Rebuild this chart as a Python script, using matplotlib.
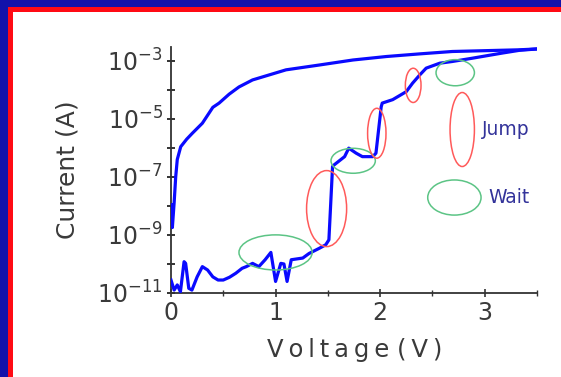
import matplotlib
matplotlib.use("Agg")
import matplotlib.pyplot as plt
from matplotlib.patches import Rectangle, Ellipse
from matplotlib.ticker import FixedLocator, FuncFormatter, LogLocator, NullFormatter, MultipleLocator
import numpy as np

# ---------------- data ----------------
# upper (high-conductance) sweep
v_up = [0.000, 0.013, 0.030, 0.045, 0.060, 0.093, 0.150, 0.204, 0.300, 0.400,
        0.460, 0.556, 0.650, 0.780, 1.100, 1.420, 1.740, 2.060, 2.380, 2.690,
        3.000, 3.330, 3.500]
i_up = [1.1e-8, 1.8e-9, 1.3e-8, 1.0e-7, 4.0e-7, 1.1e-6, 2.0e-6, 3.2e-6, 7.1e-6, 2.5e-5,
        3.5e-5, 7.1e-5, 1.26e-4, 2.2e-4, 4.9e-4, 7.2e-4, 1.07e-3, 1.41e-3, 1.74e-3, 2.1e-3,
        2.24e-3, 2.4e-3, 2.57e-3]

# lower (stepwise "jump / wait") sweep
v_low = [0.000, 0.030, 0.060, 0.090, 0.125, 0.140, 0.170, 0.200, 0.250, 0.300,
         0.350, 0.400, 0.450, 0.500, 0.560, 0.620, 0.680, 0.720, 0.780, 0.840,
         0.900, 0.955, 1.000, 1.050, 1.080, 1.110, 1.150, 1.260, 1.320, 1.420,
         1.480, 1.510, 1.545, 1.560, 1.660, 1.700, 1.770, 1.830, 1.930, 1.960,
         2.010, 2.020, 2.120, 2.200, 2.250, 2.310, 2.380, 2.440, 2.570, 2.690,
         2.880, 3.170, 3.330, 3.500]
i_low = [2.8e-11, 1.26e-11, 1.9e-11, 1.1e-11, 1.2e-10, 1.05e-10, 1.45e-11, 1.26e-11, 3.6e-11, 8.1e-11,
         6.2e-11, 3.6e-11, 2.8e-11, 2.8e-11, 3.5e-11, 4.8e-11, 7.1e-11, 8.1e-11, 1.05e-10, 8.1e-11,
         1.4e-10, 2.5e-10, 2.5e-11, 1.05e-10, 1.0e-10, 2.5e-11, 1.4e-10, 1.6e-10, 2.3e-10, 3.5e-10,
         4.6e-10, 6.8e-10, 2.3e-7, 2.6e-7, 5.0e-7, 9.8e-7, 6.6e-7, 5.0e-7, 5.0e-7, 6.6e-7,
         2.6e-5, 3.5e-5, 4.6e-5, 6.8e-5, 8.7e-5, 1.7e-4, 3.3e-4, 5.6e-4, 8.3e-4, 9.5e-4,
         1.23e-3, 1.86e-3, 2.3e-3, 2.57e-3]

# annotation ellipses: centre voltage, centre current, width (V), height (decades)
wait_v = [1.00, 1.742, 2.718]
wait_i = [2.5e-10, 3.6e-7, 3.9e-4]
wait_w = [0.70, 0.424, 0.367]
wait_h = [1.21, 0.86, 0.90]

jump_v = [1.488, 1.968, 2.316]
jump_i = [8.1e-9, 3.2e-6, 1.43e-4]
jump_w = [0.383, 0.176, 0.150]
jump_h = [2.62, 1.72, 1.18]

# legend-like key
key_labels = ["Jump", "Wait"]
key_v = [2.785, 2.71]
key_i = [4.3e-6, 1.95e-8]
key_w = [0.233, 0.51]
key_h = [2.55, 1.21]

x_ticks = [0, 1, 2, 3]
y_major_exp = [-11, -10, -9, -8, -7, -6, -5, -4, -3]
y_label_exp = [-11, -9, -7, -5, -3]

# ---------------- figure ----------------
W, H = 561, 377
fig = plt.figure(figsize=(W / 100, H / 100), dpi=100)
fig.patch.set_facecolor("#1212aa")
fig.patches.append(Rectangle((8.3 / W, 0), 1.0, (H - 7.3) / H, transform=fig.transFigure,
                             facecolor="#ff0a14", edgecolor="none", zorder=-20))
fig.patches.append(Rectangle((13.0 / W, 0), 1.0, (H - 12.0) / H, transform=fig.transFigure,
                             facecolor="white", edgecolor="none", zorder=-10))

rect = [171 / W, 84 / H, (537 - 171) / W, (293 - 47) / H]
ax = fig.add_axes(rect)
ax.patch.set_alpha(0)

ymin, ymax = 1e-11, 3e-3
ax.set_yscale("log")
ax.set_xlim(0, 3.5)
ax.set_ylim(ymin, ymax)

ax.plot(v_up, i_up, color="#0a0aff", lw=2.3, zorder=3, solid_joinstyle="round")
ax.plot(v_low, i_low, color="#0a0aff", lw=2.3, zorder=3, solid_joinstyle="round")

for s in ["top", "right"]:
    ax.spines[s].set_visible(False)
for s in ["left", "bottom"]:
    ax.spines[s].set_color("#333333")
    ax.spines[s].set_linewidth(1.3)

tick_col = "#3a3a3a"
ax.xaxis.set_major_locator(FixedLocator(x_ticks))
ax.xaxis.set_minor_locator(MultipleLocator(0.5))
ax.tick_params(axis="x", which="major", direction="inout", length=6, width=1.2,
               color="#333333", labelsize=17, labelcolor=tick_col, pad=3)
ax.tick_params(axis="x", which="minor", direction="inout", length=4, width=1.0, color="#333333")

ax.yaxis.set_major_locator(FixedLocator([10.0 ** e for e in y_major_exp]))
ax.yaxis.set_minor_locator(LogLocator(base=10, subs=np.arange(2, 10)))
ax.yaxis.set_minor_formatter(NullFormatter())


def ylab(val, pos):
    e = int(round(np.log10(val)))
    if e in y_label_exp:
        return r"$\mathregular{10^{-%d}}$" % (-e)
    return ""


ax.yaxis.set_major_formatter(FuncFormatter(ylab))
ax.tick_params(axis="y", which="major", direction="inout", length=6, width=1.4,
               color="#333333", labelsize=17, labelcolor=tick_col, pad=3)
ax.tick_params(axis="y", which="minor", direction="inout", length=3.5, width=0.9, color="#333333")

fig.text(354.5 / W, 1 - 350 / H,
         "V\u2009o\u2009l\u2009t\u2009a\u2009g\u2009e (\u2009V\u2009)",
         ha="center", va="center", fontsize=17.5, color=tick_col)
fig.text(68 / W, 1 - 170 / H, "Current (A)", rotation=90,
         ha="center", va="center", fontsize=18, color=tick_col)

# overlay axes in (V, decade) units for annotation ellipses
ax2 = fig.add_axes(rect)
ax2.set_xlim(0, 3.5)
ax2.set_ylim(np.log10(ymin), np.log10(ymax))
ax2.axis("off")
ax2.patch.set_alpha(0)

green = "#5cc485"
red = "#ff5a5a"
for v, i, w, h in zip(wait_v, wait_i, wait_w, wait_h):
    ax2.add_patch(Ellipse((v, np.log10(i)), w, h, fill=False, edgecolor=green, lw=1.1, zorder=4))
for v, i, w, h in zip(jump_v, jump_i, jump_w, jump_h):
    ax2.add_patch(Ellipse((v, np.log10(i)), w, h, fill=False, edgecolor=red, lw=1.1, zorder=4))
for lab, v, i, w, h, c in zip(key_labels, key_v, key_i, key_w, key_h, [red, green]):
    ax2.add_patch(Ellipse((v, np.log10(i)), w, h, fill=False, edgecolor=c, lw=1.1, zorder=4))
    ax2.text(v + w / 2 + 0.07, np.log10(i), lab, ha="left", va="center",
             fontsize=13.5, color="#33339a")

fig.savefig("out.png", dpi=100, facecolor=fig.get_facecolor())
